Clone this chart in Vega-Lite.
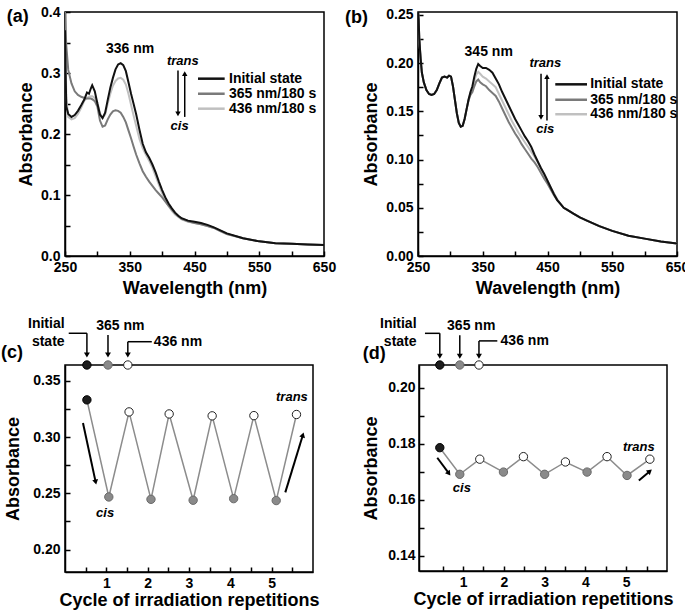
{
  "$schema": "https://vega.github.io/schema/vega-lite/v6.json",
  "background": "white",
  "padding": {"left": 0, "top": 4, "right": 0, "bottom": 0},
  "config": {
    "font": "Liberation Sans",
    "view": {"stroke": "#000000", "strokeWidth": 1.5},
    "axis": {
      "grid": false, "domainColor": "#000000", "domainWidth": 1.5,
      "tickColor": "#000000", "tickWidth": 1.5, "tickSize": -5,
      "labelFont": "Liberation Sans", "labelFontSize": 14, "labelFontWeight": "bold", "labelColor": "#000000",
      "labelFlush": false, "labelOverlap": false,
      "titleFont": "Liberation Sans", "titleFontSize": 18, "titleFontWeight": "bold", "titleColor": "#000000"
    },
    "text": {"font": "Liberation Sans", "fontWeight": "bold", "fontSize": 14, "color": "#000000"},
    "rule": {"color": "#000000", "strokeWidth": 1.5}
  },
  "datasets": {
    "specA": [
      {"x":250,"I":0.37,"U":0.40,"V":0.40},{"x":251,"I":0.30,"U":0.37,"V":0.33},{"x":252,"I":0.245,"U":0.345,"V":0.26},
      {"x":255,"I":0.233,"U":0.305,"V":0.228},{"x":260,"I":0.228,"U":0.283,"V":0.224},{"x":265,"I":0.231,"U":0.270,"V":0.226},
      {"x":270,"I":0.238,"U":0.264,"V":0.233},{"x":275,"I":0.247,"U":0.261,"V":0.243},{"x":280,"I":0.257,"U":0.259,"V":0.255},
      {"x":284,"I":0.268,"U":0.258,"V":0.259},{"x":287,"I":0.266,"U":0.258,"V":0.261},{"x":290,"I":0.275,"U":0.258,"V":0.262},
      {"x":292,"I":0.280,"U":0.257,"V":0.262},{"x":296,"I":0.270,"U":0.254,"V":0.259},{"x":300,"I":0.250,"U":0.245,"V":0.252},
      {"x":304,"I":0.232,"U":0.222,"V":0.234},{"x":308,"I":0.226,"U":0.212,"V":0.226},{"x":312,"I":0.235,"U":0.214,"V":0.232},
      {"x":316,"I":0.256,"U":0.224,"V":0.250},{"x":320,"I":0.276,"U":0.232,"V":0.266},{"x":324,"I":0.292,"U":0.237,"V":0.279},
      {"x":328,"I":0.306,"U":0.239,"V":0.287},{"x":332,"I":0.314,"U":0.238,"V":0.291},{"x":336,"I":0.316,"U":0.235,"V":0.292},
      {"x":340,"I":0.313,"U":0.228,"V":0.289},{"x":344,"I":0.303,"U":0.219,"V":0.281},{"x":348,"I":0.285,"U":0.206,"V":0.266},
      {"x":352,"I":0.266,"U":0.193,"V":0.248},{"x":356,"I":0.249,"U":0.179,"V":0.230},{"x":360,"I":0.232,"U":0.166,"V":0.213},
      {"x":365,"I":0.207,"U":0.152,"V":0.192},{"x":370,"I":0.184,"U":0.139,"V":0.177},{"x":375,"I":0.170,"U":0.130,"V":0.166},
      {"x":380,"I":0.161,"U":0.122,"V":0.156},{"x":385,"I":0.150,"U":0.115,"V":0.145},{"x":390,"I":0.137,"U":0.108,"V":0.131},
      {"x":395,"I":0.122,"U":0.102,"V":0.117},{"x":400,"I":0.108,"U":0.096,"V":0.103},{"x":405,"I":0.096,"U":0.089,"V":0.091},
      {"x":410,"I":0.086,"U":0.082,"V":0.082},{"x":415,"I":0.078,"U":0.076,"V":0.074},{"x":420,"I":0.071,"U":0.070,"V":0.068},
      {"x":425,"I":0.066,"U":0.065,"V":0.064},{"x":430,"I":0.062,"U":0.061,"V":0.060},{"x":440,"I":0.058,"U":0.057,"V":0.056},
      {"x":450,"I":0.056,"U":0.054,"V":0.054},{"x":460,"I":0.054,"U":0.052,"V":0.052},{"x":470,"I":0.051,"U":0.049,"V":0.049},
      {"x":480,"I":0.047,"U":0.046,"V":0.046},{"x":490,"I":0.042,"U":0.041,"V":0.041},{"x":500,"I":0.037,"U":0.036,"V":0.036},
      {"x":525,"I":0.029,"U":0.029,"V":0.029},{"x":550,"I":0.024,"U":0.024,"V":0.024},{"x":575,"I":0.021,"U":0.021,"V":0.021},
      {"x":600,"I":0.020,"U":0.020,"V":0.020},{"x":625,"I":0.019,"U":0.019,"V":0.019},{"x":650,"I":0.018,"U":0.018,"V":0.018}
    ],
    "specB": [
      {"x":250,"I":0.253,"U":0.253,"V":0.253},{"x":251,"I":0.245,"U":0.245,"V":0.245},{"x":252,"I":0.225,"U":0.225,"V":0.225},
      {"x":254,"I":0.205,"U":0.205,"V":0.205},{"x":256,"I":0.190,"U":0.190,"V":0.190},{"x":259,"I":0.180,"U":0.180,"V":0.180},
      {"x":263,"I":0.172,"U":0.172,"V":0.172},{"x":267,"I":0.168,"U":0.168,"V":0.168},{"x":271,"I":0.167,"U":0.167,"V":0.167},
      {"x":275,"I":0.168,"U":0.168,"V":0.168},{"x":279,"I":0.172,"U":0.172,"V":0.172},{"x":283,"I":0.179,"U":0.179,"V":0.179},
      {"x":287,"I":0.185,"U":0.185,"V":0.185},{"x":291,"I":0.186,"U":0.186,"V":0.186},{"x":295,"I":0.185,"U":0.185,"V":0.185},
      {"x":298,"I":0.187,"U":0.187,"V":0.187},{"x":301,"I":0.186,"U":0.186,"V":0.186},{"x":304,"I":0.176,"U":0.176,"V":0.176},
      {"x":307,"I":0.162,"U":0.162,"V":0.162},{"x":310,"I":0.148,"U":0.148,"V":0.148},{"x":313,"I":0.138,"U":0.138,"V":0.138},
      {"x":316,"I":0.134,"U":0.134,"V":0.134},{"x":319,"I":0.135,"U":0.135,"V":0.135},{"x":322,"I":0.142,"U":0.142,"V":0.142},
      {"x":325,"I":0.152,"U":0.152,"V":0.152},{"x":328,"I":0.162,"U":0.161,"V":0.162},{"x":331,"I":0.170,"U":0.167,"V":0.169},
      {"x":334,"I":0.176,"U":0.170,"V":0.173},{"x":337,"I":0.186,"U":0.176,"V":0.182},{"x":340,"I":0.194,"U":0.181,"V":0.188},
      {"x":343,"I":0.199,"U":0.183,"V":0.191},{"x":346,"I":0.197,"U":0.180,"V":0.189},{"x":350,"I":0.195,"U":0.178,"V":0.186},
      {"x":355,"I":0.195,"U":0.176,"V":0.184},{"x":360,"I":0.193,"U":0.172,"V":0.181},{"x":365,"I":0.190,"U":0.169,"V":0.178},
      {"x":370,"I":0.184,"U":0.166,"V":0.175},{"x":375,"I":0.178,"U":0.160,"V":0.168},{"x":380,"I":0.170,"U":0.153,"V":0.161},
      {"x":385,"I":0.163,"U":0.146,"V":0.154},{"x":390,"I":0.156,"U":0.139,"V":0.147},{"x":395,"I":0.149,"U":0.133,"V":0.140},
      {"x":400,"I":0.142,"U":0.127,"V":0.134},{"x":405,"I":0.136,"U":0.122,"V":0.128},{"x":410,"I":0.130,"U":0.116,"V":0.123},
      {"x":415,"I":0.124,"U":0.111,"V":0.118},{"x":420,"I":0.119,"U":0.106,"V":0.113},{"x":425,"I":0.113,"U":0.101,"V":0.108},
      {"x":430,"I":0.105,"U":0.097,"V":0.103},{"x":435,"I":0.098,"U":0.092,"V":0.097},{"x":440,"I":0.091,"U":0.086,"V":0.091},
      {"x":445,"I":0.085,"U":0.080,"V":0.084},{"x":450,"I":0.078,"U":0.075,"V":0.078},{"x":455,"I":0.071,"U":0.069,"V":0.071},
      {"x":460,"I":0.064,"U":0.063,"V":0.065},{"x":465,"I":0.058,"U":0.058,"V":0.059},{"x":470,"I":0.054,"U":0.054,"V":0.054},
      {"x":475,"I":0.050,"U":0.050,"V":0.050},{"x":480,"I":0.048,"U":0.048,"V":0.048},{"x":490,"I":0.044,"U":0.044,"V":0.044},
      {"x":500,"I":0.040,"U":0.040,"V":0.040},{"x":510,"I":0.037,"U":0.037,"V":0.037},{"x":530,"I":0.031,"U":0.031,"V":0.031},
      {"x":550,"I":0.026,"U":0.026,"V":0.026},{"x":575,"I":0.021,"U":0.021,"V":0.021},{"x":600,"I":0.018,"U":0.018,"V":0.018},
      {"x":625,"I":0.015,"U":0.015,"V":0.015},{"x":650,"I":0.013,"U":0.013,"V":0.013}
    ],
    "cycC": [
      {"x":0.53,"y":0.333,"state":"initial"},{"x":1.06,"y":0.2467,"state":"cis"},{"x":1.55,"y":0.3223,"state":"trans"},
      {"x":2.08,"y":0.2446,"state":"cis"},{"x":2.52,"y":0.3205,"state":"trans"},{"x":3.1,"y":0.2438,"state":"cis"},
      {"x":3.56,"y":0.3188,"state":"trans"},{"x":4.08,"y":0.2452,"state":"cis"},{"x":4.57,"y":0.319,"state":"trans"},
      {"x":5.11,"y":0.2435,"state":"cis"},{"x":5.6,"y":0.32,"state":"trans"}
    ],
    "cycD": [
      {"x":0.43,"y":0.1786,"state":"initial"},{"x":0.92,"y":0.1691,"state":"cis"},{"x":1.41,"y":0.1745,"state":"trans"},
      {"x":1.99,"y":0.1699,"state":"cis"},{"x":2.48,"y":0.1754,"state":"trans"},{"x":3.0,"y":0.1691,"state":"cis"},
      {"x":3.51,"y":0.1735,"state":"trans"},{"x":4.04,"y":0.1699,"state":"cis"},{"x":4.53,"y":0.1754,"state":"trans"},
      {"x":5.02,"y":0.1687,"state":"cis"},{"x":5.58,"y":0.1745,"state":"trans"}
    ]
  },
  "columns": 1,
  "align": "none",
  "spacing": 18,
  "concat": [
    {
      "hconcat": [
        {
          "width": 259, "height": 244,
          "encoding": {
            "x": {"field": "x", "type": "quantitative", "scale": {"domain": [250, 650], "nice": false, "zero": false},
              "axis": {"title": "Wavelength (nm)", "values": [250,300,350,400,450,500,550,600,650], "labelExpr": "datum.value % 100 == 50 ? datum.label : ''", "labelPadding": 9, "titlePadding": 5}},
            "y": {"field": "y", "type": "quantitative", "scale": {"domain": [0, 0.4], "nice": false, "zero": false},
              "axis": {"title": "Absorbance", "values": [0,0.05,0.1,0.15,0.2,0.25,0.3,0.35,0.4], "labelExpr": "round(datum.value*100) % 10 == 0 ? format(datum.value, '.1f') : ''", "labelPadding": 10, "titlePadding": 5}}
          },
          "layer": [
            {"data": {"name": "specA"}, "transform": [{"fold": ["V", "U", "I"], "as": ["series", "y"]}],
             "mark": {"type": "line", "strokeWidth": 2, "clip": true},
             "encoding": {"color": {"field": "series", "type": "nominal", "scale": {"domain": ["I","U","V"], "range": ["#111111","#7a7a7a","#c0c0c0"]}, "legend": null}}},
            {"data": {"values": [{"x":455.4,"x2":496.6,"y":0.2907,"series":"I"},{"x":455.4,"x2":496.6,"y":0.266,"series":"U"},{"x":455.4,"x2":496.6,"y":0.2415,"series":"V"}]},
             "mark": {"type": "rule", "strokeWidth": 2.5},
             "encoding": {"x2": {"field": "x2"}, "color": {"field": "series", "type": "nominal", "legend": null}}},
            {"data": {"values": [{"x":503.3,"y":0.2907,"t":"Initial state"},{"x":503.3,"y":0.266,"t":"365 nm/180 s"},{"x":503.3,"y":0.2415,"t":"436 nm/180 s"}]},
             "mark": {"type": "text", "align": "left"}, "encoding": {"text": {"field": "t"}}},
            {"data": {"values": [{"x":350.4,"y":0.339,"t":"336 nm"}]},
             "mark": {"type": "text"}, "encoding": {"text": {"field": "t"}}},
            {"data": {"values": [{"x":432,"y":0.319,"t":"trans"},{"x":427,"y":0.213,"t":"cis"}]},
             "mark": {"type": "text", "fontStyle": "italic", "fontSize": 13}, "encoding": {"text": {"field": "t"}}},
            {"data": {"values": [{"x":424.5,"x2":424.5,"y":0.304,"y2":0.233},{"x":434.9,"x2":434.9,"y":0.228,"y2":0.299}]},
             "mark": {"type": "rule", "strokeWidth": 1.5}, "encoding": {"x2": {"field": "x2"}, "y2": {"field": "y2"}}},
            {"data": {"values": [{"x":424.5,"y":0.2329,"a":180},{"x":434.9,"y":0.299,"a":0}]},
             "mark": {"type": "point", "shape": "triangle-up", "filled": true, "color": "#000000", "size": 30, "opacity": 1},
             "encoding": {"angle": {"field": "a", "type": "quantitative", "scale": null}}},
            {"data": {"values": [{"x":160,"y":0.392,"t":"(a)"}]},
             "mark": {"type": "text", "align": "left", "fontSize": 18}, "encoding": {"text": {"field": "t"}}}
          ]
        },
        {
          "width": 259, "height": 244,
          "encoding": {
            "x": {"field": "x", "type": "quantitative", "scale": {"domain": [250, 650], "nice": false, "zero": false},
              "axis": {"title": "Wavelength (nm)", "values": [250,300,350,400,450,500,550,600,650], "labelExpr": "datum.value % 100 == 50 ? datum.label : ''", "labelPadding": 9, "titlePadding": 5}},
            "y": {"field": "y", "type": "quantitative", "scale": {"domain": [0, 0.253], "nice": false, "zero": false},
              "axis": {"title": "Absorbance", "values": [0,0.025,0.05,0.075,0.1,0.125,0.15,0.175,0.2,0.225,0.25], "labelExpr": "round(datum.value*1000) % 50 == 0 ? format(datum.value, '.2f') : ''", "labelPadding": 10, "titlePadding": 5}}
          },
          "layer": [
            {"data": {"name": "specB"}, "transform": [{"fold": ["V", "U", "I"], "as": ["series", "y"]}],
             "mark": {"type": "line", "strokeWidth": 2, "clip": true},
             "encoding": {"color": {"field": "series", "type": "nominal", "scale": {"domain": ["I","U","V"], "range": ["#111111","#7a7a7a","#c0c0c0"]}, "legend": null}}},
            {"data": {"values": [{"x":462,"x2":511,"y":0.178,"series":"I"},{"x":462,"x2":511,"y":0.162,"series":"U"},{"x":462,"x2":511,"y":0.147,"series":"V"}]},
             "mark": {"type": "rule", "strokeWidth": 2.5},
             "encoding": {"x2": {"field": "x2"}, "color": {"field": "series", "type": "nominal", "legend": null}}},
            {"data": {"values": [{"x":516,"y":0.178,"t":"Initial state"},{"x":516,"y":0.162,"t":"365 nm/180 s"},{"x":516,"y":0.147,"t":"436 nm/180 s"}]},
             "mark": {"type": "text", "align": "left"}, "encoding": {"text": {"field": "t"}}},
            {"data": {"values": [{"x":359.2,"y":0.2111,"t":"345 nm"}]},
             "mark": {"type": "text"}, "encoding": {"text": {"field": "t"}}},
            {"data": {"values": [{"x":446.6,"y":0.1997,"t":"trans"},{"x":446.6,"y":0.132,"t":"cis"}]},
             "mark": {"type": "text", "fontStyle": "italic", "fontSize": 13}, "encoding": {"text": {"field": "t"}}},
            {"data": {"values": [{"x":440,"x2":440,"y":0.189,"y2":0.1437},{"x":449.2,"x2":449.2,"y":0.1406,"y2":0.1859}]},
             "mark": {"type": "rule", "strokeWidth": 1.5}, "encoding": {"x2": {"field": "x2"}, "y2": {"field": "y2"}}},
            {"data": {"values": [{"x":440,"y":0.1437,"a":180},{"x":449.2,"y":0.1859,"a":0}]},
             "mark": {"type": "point", "shape": "triangle-up", "filled": true, "color": "#000000", "size": 30, "opacity": 1},
             "encoding": {"angle": {"field": "a", "type": "quantitative", "scale": null}}},
            {"data": {"values": [{"x":137.3,"y":0.2466,"t":"(b)"}]},
             "mark": {"type": "text", "align": "left", "fontSize": 18}, "encoding": {"text": {"field": "t"}}}
          ]
        }
      ],
      "spacing": 7
    },
    {
      "hconcat": [
        {
          "width": 248, "height": 207,
          "encoding": {
            "x": {"field": "x", "type": "quantitative", "scale": {"domain": [0, 6], "nice": false, "zero": false},
              "axis": {"title": "Cycle of irradiation repetitions", "values": [0.5,1,1.5,2,2.5,3,3.5,4,4.5,5,5.5], "labelExpr": "datum.value % 1 == 0 ? format(datum.value, 'd') : ''", "labelPadding": 9, "titlePadding": 1}},
            "y": {"field": "y", "type": "quantitative", "scale": {"domain": [0.18, 0.364], "nice": false, "zero": false},
              "axis": {"title": "Absorbance", "values": [0.2,0.225,0.25,0.275,0.3,0.325,0.35], "labelExpr": "round(datum.value*1000) % 50 == 0 ? format(datum.value, '.2f') : ''", "labelPadding": 10, "titlePadding": 10}}
          },
          "layer": [
            {"data": {"name": "cycC"}, "mark": {"type": "line", "color": "#8c8c8c", "strokeWidth": 1.5}},
            {"data": {"name": "cycC"}, "mark": {"type": "point", "filled": true, "size": 70, "strokeWidth": 1, "opacity": 1},
             "encoding": {
               "fill": {"field": "state", "type": "nominal", "scale": {"domain": ["initial","cis","trans"], "range": ["#1e1e1e","#8a8a8a","#ffffff"]}, "legend": null},
               "stroke": {"field": "state", "type": "nominal", "scale": {"domain": ["initial","cis","trans"], "range": ["#000000","#6a6a6a","#222222"]}, "legend": null}}},
            {"data": {"values": [{"x":0.53,"y":0.364,"state":"initial"},{"x":1.04,"y":0.364,"state":"cis"},{"x":1.52,"y":0.364,"state":"trans"}]},
             "mark": {"type": "point", "filled": true, "size": 70, "strokeWidth": 1, "opacity": 1},
             "encoding": {
               "fill": {"field": "state", "type": "nominal", "legend": null},
               "stroke": {"field": "state", "type": "nominal", "legend": null}}},
            {"data": {"values": [
               {"x":0.09,"x2":0.53,"y":0.3922,"y2":0.3922},{"x":0.53,"x2":0.53,"y":0.3922,"y2":0.3729},
               {"x":1.04,"x2":1.04,"y":0.3907,"y2":0.3729},
               {"x":1.52,"x2":2.1,"y":0.3847,"y2":0.3847},{"x":1.52,"x2":1.52,"y":0.3847,"y2":0.3729}]},
             "mark": {"type": "rule", "strokeWidth": 1.5}, "encoding": {"x2": {"field": "x2"}, "y2": {"field": "y2"}}},
            {"data": {"values": [{"x":0.435,"x2":0.742,"y":0.3124,"y2":0.2599},{"x":5.33,"x2":5.755,"y":0.2508,"y2":0.3018}]},
             "mark": {"type": "rule", "strokeWidth": 2}, "encoding": {"x2": {"field": "x2"}, "y2": {"field": "y2"}}},
            {"data": {"values": [{"x":0.53,"y":0.3729,"a":180},{"x":1.04,"y":0.3729,"a":180},{"x":1.52,"y":0.3729,"a":180},{"x":0.742,"y":0.2599,"a":168},{"x":5.755,"y":0.3018,"a":17}]},
             "mark": {"type": "point", "shape": "triangle-up", "filled": true, "color": "#000000", "size": 35, "opacity": 1},
             "encoding": {"angle": {"field": "a", "type": "quantitative", "scale": null}}},
            {"data": {"values": [{"x":-0.01,"y":0.4004,"t":"Initial"},{"x":-0.01,"y":0.3844,"t":"state"}]},
             "mark": {"type": "text", "align": "right"}, "encoding": {"text": {"field": "t"}}},
            {"data": {"values": [{"x":1.34,"y":0.3987,"t":"365 nm"}]},
             "mark": {"type": "text"}, "encoding": {"text": {"field": "t"}}},
            {"data": {"values": [{"x":2.15,"y":0.3847,"t":"436 nm"}]},
             "mark": {"type": "text", "align": "left"}, "encoding": {"text": {"field": "t"}}},
            {"data": {"values": [{"x":0.97,"y":0.2324,"t":"cis"},{"x":5.49,"y":0.3356,"t":"trans"}]},
             "mark": {"type": "text", "fontStyle": "italic", "fontSize": 13}, "encoding": {"text": {"field": "t"}}},
            {"data": {"values": [{"x":-1.55,"y":0.3747,"t":"(c)"}]},
             "mark": {"type": "text", "align": "left", "fontSize": 18}, "encoding": {"text": {"field": "t"}}}
          ]
        },
        {
          "width": 248, "height": 206,
          "encoding": {
            "x": {"field": "x", "type": "quantitative", "scale": {"domain": [-0.08, 6], "nice": false, "zero": false},
              "axis": {"title": "Cycle of irradiation repetitions", "values": [0.5,1,1.5,2,2.5,3,3.5,4,4.5,5,5.5], "labelExpr": "datum.value % 1 == 0 ? format(datum.value, 'd') : ''", "labelPadding": 9, "titlePadding": 1}},
            "y": {"field": "y", "type": "quantitative", "scale": {"domain": [0.1346, 0.2081], "nice": false, "zero": false},
              "axis": {"title": "Absorbance", "values": [0.14,0.15,0.16,0.17,0.18,0.19,0.2], "labelExpr": "round(datum.value*100) % 2 == 0 ? format(datum.value, '.2f') : ''", "labelPadding": 9, "titlePadding": 7}}
          },
          "layer": [
            {"data": {"name": "cycD"}, "mark": {"type": "line", "color": "#8c8c8c", "strokeWidth": 1.5}},
            {"data": {"name": "cycD"}, "mark": {"type": "point", "filled": true, "size": 70, "strokeWidth": 1, "opacity": 1},
             "encoding": {
               "fill": {"field": "state", "type": "nominal", "scale": {"domain": ["initial","cis","trans"], "range": ["#1e1e1e","#8a8a8a","#ffffff"]}, "legend": null},
               "stroke": {"field": "state", "type": "nominal", "scale": {"domain": ["initial","cis","trans"], "range": ["#000000","#6a6a6a","#222222"]}, "legend": null}}},
            {"data": {"values": [{"x":0.43,"y":0.2081,"state":"initial"},{"x":0.92,"y":0.2081,"state":"cis"},{"x":1.39,"y":0.2081,"state":"trans"}]},
             "mark": {"type": "point", "filled": true, "size": 70, "strokeWidth": 1, "opacity": 1},
             "encoding": {
               "fill": {"field": "state", "type": "nominal", "legend": null},
               "stroke": {"field": "state", "type": "nominal", "legend": null}}},
            {"data": {"values": [
               {"x":0.066,"x2":0.43,"y":0.2194,"y2":0.2194},{"x":0.43,"x2":0.43,"y":0.2194,"y2":0.2112},
               {"x":0.92,"x2":0.92,"y":0.2187,"y2":0.2112},
               {"x":1.39,"x2":1.84,"y":0.2167,"y2":0.2167},{"x":1.39,"x2":1.39,"y":0.2167,"y2":0.2112}]},
             "mark": {"type": "rule", "strokeWidth": 1.5}, "encoding": {"x2": {"field": "x2"}, "y2": {"field": "y2"}}},
            {"data": {"values": [{"x":0.368,"x2":0.653,"y":0.1750,"y2":0.1694},{"x":5.31,"x2":5.58,"y":0.1669,"y2":0.1702}]},
             "mark": {"type": "rule", "strokeWidth": 2}, "encoding": {"x2": {"field": "x2"}, "y2": {"field": "y2"}}},
            {"data": {"values": [{"x":0.43,"y":0.2112,"a":180},{"x":0.92,"y":0.2112,"a":180},{"x":1.39,"y":0.2112,"a":180},{"x":0.653,"y":0.1694,"a":144},{"x":5.58,"y":0.1702,"a":50}]},
             "mark": {"type": "point", "shape": "triangle-up", "filled": true, "color": "#000000", "size": 35, "opacity": 1},
             "encoding": {"angle": {"field": "a", "type": "quantitative", "scale": null}}},
            {"data": {"values": [{"x":-0.14,"y":0.2226,"t":"Initial"},{"x":-0.14,"y":0.2164,"t":"state"}]},
             "mark": {"type": "text", "align": "right"}, "encoding": {"text": {"field": "t"}}},
            {"data": {"values": [{"x":1.2,"y":0.2220,"t":"365 nm"}]},
             "mark": {"type": "text"}, "encoding": {"text": {"field": "t"}}},
            {"data": {"values": [{"x":1.92,"y":0.2167,"t":"436 nm"}]},
             "mark": {"type": "text", "align": "left"}, "encoding": {"text": {"field": "t"}}},
            {"data": {"values": [{"x":0.97,"y":0.1642,"t":"cis"},{"x":5.31,"y":0.1788,"t":"trans"}]},
             "mark": {"type": "text", "fontStyle": "italic", "fontSize": 13}, "encoding": {"text": {"field": "t"}}},
            {"data": {"values": [{"x":-1.46,"y":0.2120,"t":"(d)"}]},
             "mark": {"type": "text", "align": "left", "fontSize": 18}, "encoding": {"text": {"field": "t"}}}
          ]
        }
      ],
      "spacing": 41
    }
  ]
}
